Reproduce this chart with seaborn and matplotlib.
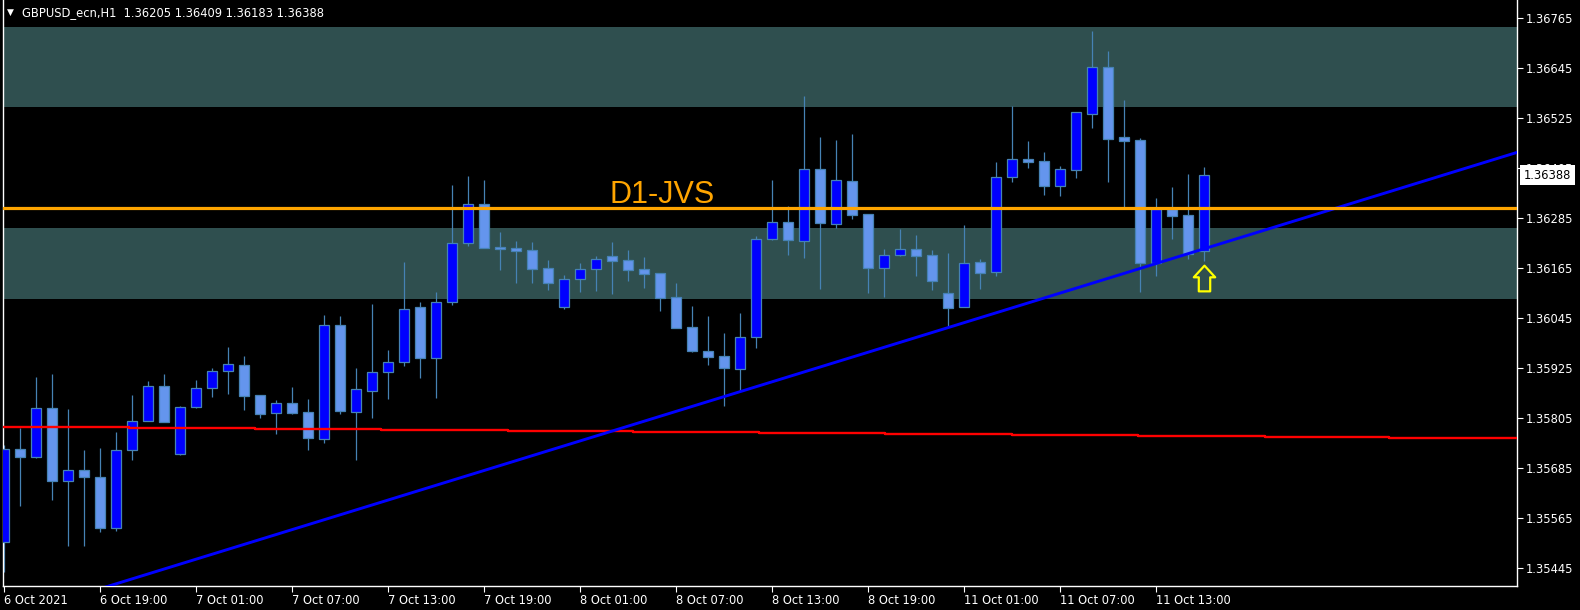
import numpy as np
import pandas as pd
import matplotlib
matplotlib.use("Agg")
import matplotlib.pyplot as plt
from matplotlib.path import Path
from matplotlib.transforms import blended_transform_factory
import seaborn as sns

# GBPUSD_ecn H1 candles, bar 0 = 6 Oct 2021 13:00, last bar = 11 Oct 16:00
opens = [1.35508, 1.35730, 1.35712, 1.35830, 1.35653, 1.35679, 1.35663, 1.35542, 1.35729, 1.35799,
         1.35883, 1.35718, 1.35831, 1.35876, 1.35919, 1.35932, 1.35860, 1.35816, 1.35841, 1.35819,
         1.35755, 1.36028, 1.35819, 1.35871, 1.35915, 1.35940, 1.36072, 1.35948, 1.36083, 1.36225,
         1.36319, 1.36216, 1.36213, 1.36209, 1.36165, 1.36071, 1.36138, 1.36164, 1.36193, 1.36184,
         1.36163, 1.36153, 1.36096, 1.36024, 1.35966, 1.35954, 1.35922, 1.35999, 1.36234, 1.36276,
         1.36231, 1.36402, 1.36272, 1.36374, 1.36295, 1.36166, 1.36196, 1.36211, 1.36196, 1.36105,
         1.36072, 1.36179, 1.36155, 1.36385, 1.36427, 1.36422, 1.36363, 1.36401, 1.36536, 1.36648,
         1.36480, 1.36473, 1.36178, 1.36307, 1.36293, 1.36205]
highs = [1.35740, 1.35782, 1.35903, 1.35911, 1.35827, 1.35728, 1.35733, 1.35771, 1.35860, 1.35894,
         1.35911, 1.35834, 1.35896, 1.35924, 1.35975, 1.35954, 1.35861, 1.35848, 1.35879, 1.35851,
         1.36052, 1.36050, 1.35925, 1.36079, 1.35968, 1.36180, 1.36084, 1.36108, 1.36365, 1.36386,
         1.36377, 1.36252, 1.36230, 1.36228, 1.36185, 1.36149, 1.36177, 1.36194, 1.36228, 1.36208,
         1.36192, 1.36153, 1.36129, 1.36074, 1.36050, 1.36009, 1.36057, 1.36242, 1.36377, 1.36314,
         1.36578, 1.36480, 1.36473, 1.36487, 1.36295, 1.36211, 1.36259, 1.36245, 1.36209, 1.36201,
         1.36269, 1.36187, 1.36420, 1.36554, 1.36470, 1.36444, 1.36410, 1.36539, 1.36734, 1.36686,
         1.36569, 1.36477, 1.36333, 1.36360, 1.36391, 1.36409]
lows = [1.35436, 1.35594, 1.35710, 1.35608, 1.35498, 1.35498, 1.35532, 1.35534, 1.35704, 1.35798,
        1.35795, 1.35717, 1.35830, 1.35856, 1.35863, 1.35825, 1.35806, 1.35767, 1.35815, 1.35727,
        1.35746, 1.35815, 1.35703, 1.35806, 1.35850, 1.35931, 1.35900, 1.35852, 1.36077, 1.36219,
        1.36214, 1.36161, 1.36130, 1.36130, 1.36113, 1.36068, 1.36108, 1.36111, 1.36104, 1.36135,
        1.36118, 1.36063, 1.36020, 1.35964, 1.35933, 1.35835, 1.35871, 1.35974, 1.36233, 1.36197,
        1.36190, 1.36116, 1.36262, 1.36284, 1.36106, 1.36096, 1.36193, 1.36145, 1.36112, 1.36024,
        1.36072, 1.36116, 1.36147, 1.36373, 1.36406, 1.36341, 1.36339, 1.36382, 1.36502, 1.36373,
        1.36311, 1.36107, 1.36147, 1.36235, 1.36188, 1.36183]
closes = [1.35730, 1.35712, 1.35828, 1.35654, 1.35679, 1.35664, 1.35542, 1.35727, 1.35799, 1.35883,
          1.35796, 1.35831, 1.35876, 1.35919, 1.35934, 1.35859, 1.35815, 1.35840, 1.35817, 1.35758,
          1.36028, 1.35823, 1.35874, 1.35915, 1.35939, 1.36066, 1.35950, 1.36083, 1.36225, 1.36318,
          1.36214, 1.36212, 1.36207, 1.36164, 1.36130, 1.36139, 1.36162, 1.36188, 1.36183, 1.36161,
          1.36152, 1.36094, 1.36022, 1.35967, 1.35952, 1.35924, 1.35999, 1.36234, 1.36275, 1.36233,
          1.36402, 1.36273, 1.36376, 1.36293, 1.36166, 1.36196, 1.36210, 1.36195, 1.36134, 1.36070,
          1.36177, 1.36154, 1.36385, 1.36426, 1.36421, 1.36363, 1.36402, 1.36539, 1.36647, 1.36476,
          1.36471, 1.36178, 1.36307, 1.36290, 1.36200, 1.36388]

time_tick_bars = [0, 6, 12, 18, 24, 30, 36, 42, 48, 54, 60, 66, 72]
time_tick_labels = ["6 Oct 2021", "6 Oct 19:00", "7 Oct 01:00", "7 Oct 07:00", "7 Oct 13:00",
                    "7 Oct 19:00", "8 Oct 01:00", "8 Oct 07:00", "8 Oct 13:00", "8 Oct 19:00",
                    "11 Oct 01:00", "11 Oct 07:00", "11 Oct 13:00"]
price_ticks = [1.35445, 1.35565, 1.35685, 1.35805, 1.35925, 1.36045,
               1.36165, 1.36285, 1.36405, 1.36525, 1.36645, 1.36765]

# slow moving average (stepped, higher timeframe)
ma_edges = [-0.05, 7.8, 15.7, 23.6, 31.5, 39.3, 47.2, 55.1, 63.0, 70.9, 78.8, 86.6, 94.6]
ma_values = [1.35784, 1.35782, 1.35779, 1.35777, 1.35774, 1.35772,
             1.35770, 1.35767, 1.35765, 1.35762, 1.35760, 1.35758]

trend_bars = [8, 74]
trend_prices = [1.354183, 1.361994]

zones = [(1.36553, 1.36745), (1.36091, 1.36262)]
jvs_level = 1.36309
jvs_label_bar, jvs_label_price = 37.85, 1.36321
signal_bar, signal_price = 75, 1.36142

sns.set_style("dark", {"axes.facecolor": "black", "figure.facecolor": "black"})
plt.rcParams['font.family'] = ['DejaVu Sans']

fig = plt.figure(figsize=(15.8, 6.1), dpi=100)
ax = fig.add_axes([3 / 1580, 24 / 610, 1514 / 1580, 586 / 610])
ax.set_facecolor("black")
ax.grid(False)
ax.set_xlim(-0.044, 94.58)
ax.set_ylim(1.354015, 1.36809)

for lo, hi in zones:
    ax.axhspan(lo, hi, color="#2F4F4F", lw=0, zorder=0)

df = pd.DataFrame({"bar": np.arange(len(opens)), "open": opens, "high": highs,
                   "low": lows, "close": closes})
df["bull"] = df["close"] >= df["open"]
edge = "#4682B4"
ax.vlines(df["bar"], df["low"], df["high"], color=edge, lw=0.9, zorder=2)
ax.bar(df["bar"], df["close"] - df["open"], bottom=df["open"], width=0.64,
       color=np.where(df["bull"], "#0000FF", "#6495ED"), edgecolor=edge, linewidth=0.9, zorder=3)

# moving average
ma = pd.DataFrame({"bar": ma_edges, "price": ma_values + [ma_values[-1]]})
sns.lineplot(data=ma, x="bar", y="price", drawstyle="steps-post", color="#FF0000",
             lw=1.7, ax=ax, zorder=4)

# trend line (ray through two anchors)
slope = (trend_prices[1] - trend_prices[0]) / (trend_bars[1] - trend_bars[0])
tx = np.array(ax.get_xlim())
ty = trend_prices[0] + slope * (tx - trend_bars[0])
sns.lineplot(x=tx, y=ty, color="#0000FF", lw=2.1, ax=ax, zorder=5)

ax.axhline(jvs_level, color="#FFA500", lw=2.3, zorder=6)
ax.text(jvs_label_bar, jvs_label_price, "D1-JVS", color="#FFA500", fontsize=22,
        family=["Liberation Sans"], ha="left", va="baseline", zorder=7)

arrow = Path([(0, 12.85), (10.7, 1.2), (5.7, 1.2), (5.7, -12.85), (-5.7, -12.85),
              (-5.7, 1.2), (-10.7, 1.2), (0, 12.85)],
             [Path.MOVETO] + [Path.LINETO] * 6 + [Path.CLOSEPOLY])
ax.plot([signal_bar], [signal_price], marker=arrow, ms=18.5, mfc="none", mec="#FFFF00",
        mew=1.6, ls="none", zorder=8)

ax.set_xlabel("")
ax.set_ylabel("")
ax.set_xticks(time_tick_bars)
ax.set_xticklabels(time_tick_labels)
for lbl in ax.get_xticklabels():
    lbl.set_ha("left")
ax.yaxis.tick_right()
ax.set_yticks(price_ticks)
ax.set_yticklabels([f"{p:.5f}" for p in price_ticks])
ax.tick_params(axis="x", bottom=True, colors="white", length=4, width=0.8, pad=2, labelsize=8.3)
ax.tick_params(axis="y", right=True, left=False, labelright=True, labelleft=False,
               colors="white", length=4, width=0.8, pad=2, labelsize=8.3)
for side in ["left", "right", "bottom"]:
    ax.spines[side].set_visible(True)
    ax.spines[side].set_color("white")
    ax.spines[side].set_linewidth(1.0)
ax.spines["top"].set_visible(False)

# current price label (sits over part of the 1.36405 tick label, as in the terminal)
trans = blended_transform_factory(ax.transAxes, ax.transData)
ax.text(1.0045, closes[-1], f"{closes[-1]:.5f}", transform=trans, ha="left", va="center",
        color="black", fontsize=8.3, clip_on=False, zorder=10,
        bbox=dict(boxstyle="square,pad=0.3", fc="white", ec="none"))

fig.text(7 / 1580, 1 - 12.5 / 610, "▼", color="white", fontsize=6.5, va="center")
fig.text(22 / 1580, 1 - 12.7 / 610,
         f"GBPUSD_ecn,H1  {opens[-1]:.5f} {highs[-1]:.5f} {lows[-1]:.5f} {closes[-1]:.5f}",
         color="white", fontsize=8.3, va="center")

fig.savefig("out.png", dpi=100, facecolor="black")
